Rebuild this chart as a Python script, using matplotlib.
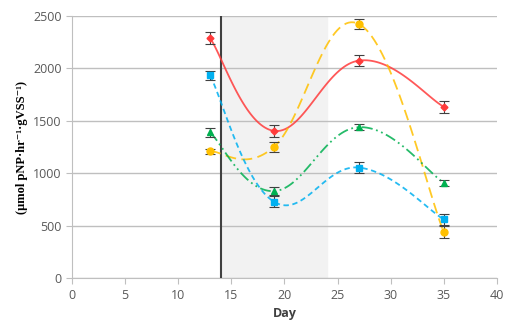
import numpy as np
import matplotlib.pyplot as plt

days = [13, 19, 27, 35]
red = [2290, 1405, 2075, 1635]
yellow = [1210, 1250, 2425, 440]
green = [1390, 830, 1440, 910]
blue = [1935, 730, 1055, 560]
red_err = [55, 55, 55, 55]
yellow_err = [25, 50, 50, 60]
green_err = [40, 40, 30, 30]
blue_err = [45, 50, 50, 50]


def smooth(x, y, n=40, k=5.0):
    # Excel-style smoothed line: cubic bezier through the points
    x = np.asarray(x, float)
    y = np.asarray(y, float)
    px, py = [], []
    for i in range(len(x) - 1):
        i0 = max(i - 1, 0)
        i3 = min(i + 2, len(x) - 1)
        c1x = x[i] + (x[i + 1] - x[i0]) / k
        c1y = y[i] + (y[i + 1] - y[i0]) / k
        c2x = x[i + 1] - (x[i3] - x[i]) / k
        c2y = y[i + 1] - (y[i3] - y[i]) / k
        t = np.linspace(0, 1, n)
        bx = (1 - t) ** 3 * x[i] + 3 * (1 - t) ** 2 * t * c1x + 3 * (1 - t) * t ** 2 * c2x + t ** 3 * x[i + 1]
        by = (1 - t) ** 3 * y[i] + 3 * (1 - t) ** 2 * t * c1y + 3 * (1 - t) * t ** 2 * c2y + t ** 3 * y[i + 1]
        px.extend(bx)
        py.extend(by)
    return px, py


fig = plt.figure(figsize=(5.07, 3.28), dpi=100)
ax = fig.add_axes([0.142, 0.152, 0.838, 0.799])

ax.axvspan(14, 24, color='#f2f2f2', zorder=0)
ax.axvline(14, color='#404040', lw=1.5, zorder=3)

series = [
    (red, red_err, '#ff3b3b', 'D', 3.5, '-'),
    (yellow, yellow_err, '#ffc000', 'o', 5, (0, (6, 3))),
    (green, green_err, '#00b050', '^', 5, (0, (6, 2, 1, 2, 1, 2))),
    (blue, blue_err, '#00b0f0', 's', 5, (0, (3, 2))),
]
for vals, err, col, mk, ms, ls in series:
    sx, sy = smooth(days, vals)
    ax.plot(sx, sy, color=col, lw=1.3, linestyle=ls, alpha=0.85, zorder=4)
    ax.errorbar(days, vals, yerr=err, fmt=mk, color=col, ms=ms,
                ecolor='#404040', elinewidth=0.8, capsize=3.5, capthick=0.8, zorder=5)

ax.set_xlim(0, 40)
ax.set_ylim(0, 2500)
ax.set_xticks(range(0, 41, 5))
ax.set_yticks(range(0, 2501, 500))
ax.grid(axis='y', color='#bfbfbf', lw=1)
ax.set_axisbelow(True)
for s in ['top', 'right']:
    ax.spines[s].set_visible(False)
ax.spines['left'].set_color('#bfbfbf')
ax.spines['bottom'].set_color('#bfbfbf')
ax.tick_params(colors='#bfbfbf', labelcolor='#595959', labelsize=9, length=4)
for lab in ax.get_xticklabels() + ax.get_yticklabels():
    lab.set_fontfamily('Open Sans')

ax.set_xlabel('Day', fontsize=9, fontweight='bold', color='#404040', fontfamily='Open Sans')
ax.set_ylabel('(μmol pNP·hr⁻¹·gVSS⁻¹)', fontsize=9, fontweight='bold',
              family=['Liberation Serif', 'DejaVu Serif'], color='black')

fig.savefig('out.png', dpi=100)
